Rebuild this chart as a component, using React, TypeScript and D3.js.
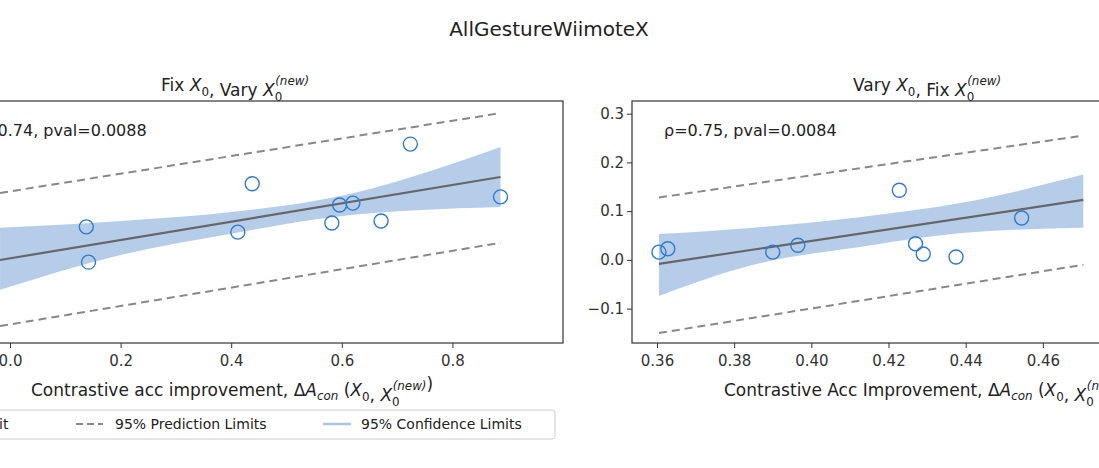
import { useEffect, useRef } from 'react';
import * as d3 from 'd3';

// ---- left panel (Fix X0, Vary X0_new) ----
const leftX = [0.138, 0.142, 0.438, 0.412, 0.582, 0.596, 0.62, 0.671, 0.724, 0.887];
const leftY = [0.14, 0.067, 0.229, 0.129, 0.148, 0.185, 0.189, 0.152, 0.311, 0.202];
const leftFitX = [-0.018, 0.887];
const leftFitY = [0.0715, 0.243];
const leftPiUp = [0.21, 0.375];
const leftPiLo = [-0.065, 0.107];
const leftCiX = [-0.018, 0.2, 0.405, 0.582, 0.887];
const leftCiUp = [0.138, 0.152, 0.171, 0.2, 0.305];
const leftCiLo = [0.01, 0.082, 0.127, 0.16, 0.181];
const leftXTicks = [0, 0.2, 0.4, 0.6, 0.8];

// ---- right panel (Vary X0, Fix X0_new) ----
const rightX = [0.3605, 0.3628, 0.39, 0.3965, 0.4228, 0.427, 0.429, 0.4375, 0.4545];
const rightY = [0.016, 0.023, 0.016, 0.03, 0.143, 0.033, 0.012, 0.006, 0.086];
const rightFitX = [0.3605, 0.4705];
const rightFitY = [-0.008, 0.123];
const rightPiUp = [0.128, 0.255];
const rightPiLo = [-0.15, -0.01];
const rightCiX = [0.3605, 0.385, 0.413, 0.439, 0.4705];
const rightCiUp = [0.053, 0.066, 0.088, 0.117, 0.175];
const rightCiLo = [-0.074, -0.01, 0.027, 0.055, 0.066];
const rightXTicks = [0.36, 0.38, 0.4, 0.42, 0.44, 0.46];
const rightYTicks = [-0.1, 0, 0.1, 0.2, 0.3];

const FONT = 'DejaVu Sans, sans-serif';
const DOT = '#2f7bd0';
const BAND = '#a9c4e6';

export default function App() {
  const ref = useRef<SVGSVGElement>(null);

  useEffect(() => {
    const svg = d3.select(ref.current!);
    svg.selectAll('*').remove();
    svg.append('rect').attr('width', 1099).attr('height', 468).attr('fill', '#fff');

    svg.append('text').attr('x', 549).attr('y', 36).attr('text-anchor', 'middle')
      .attr('font-size', 20).attr('fill', '#222').text('AllGestureWiimoteX');

    // math helper: X_0 / X_0^(new)
    const mathX = (t: any, sup: boolean) => {
      t.append('tspan').attr('font-style', 'italic').text('X');
      t.append('tspan').attr('font-size', '0.7em').attr('dy', 5).text('0');
      if (sup) {
        t.append('tspan').attr('font-size', '0.7em').attr('font-style', 'italic').attr('dx', -7).attr('dy', -16).text('(new)');
        t.append('tspan').attr('dy', 11).text('');
      } else {
        t.append('tspan').attr('dy', -5).text('');
      }
    };

    const panel = (o: any) => {
      const top = 101, bottom = 343;
      const x = d3.scaleLinear().domain(o.xDom).range(o.xRange);
      const y = d3.scaleLinear().domain(o.yDom).range([bottom, top]);
      const g = svg.append('g');

      const area = d3.area<number>().x((_, i) => x(o.ciX[i])).y0((_, i) => y(o.ciLo[i])).y1((_, i) => y(o.ciUp[i])).curve(d3.curveMonotoneX);
      g.append('path').attr('d', area(o.ciX)).attr('fill', BAND).attr('opacity', 0.85);

      const line = d3.line<number>().x((_, i) => x(o.fitX[i])).y((d) => y(d));
      g.append('path').attr('d', line(o.piUp)).attr('fill', 'none').attr('stroke', '#888').attr('stroke-width', 2).attr('stroke-dasharray', '8,5');
      g.append('path').attr('d', line(o.piLo)).attr('fill', 'none').attr('stroke', '#888').attr('stroke-width', 2).attr('stroke-dasharray', '8,5');
      g.append('path').attr('d', line(o.fitY)).attr('fill', 'none').attr('stroke', '#666').attr('stroke-width', 2.2);

      g.selectAll('circle.p').data(o.px as number[]).enter().append('circle')
        .attr('cx', (d) => x(d)).attr('cy', (_, i) => y(o.py[i])).attr('r', 7)
        .attr('fill', 'none').attr('stroke', DOT).attr('stroke-width', 1.4);

      g.append('rect').attr('x', o.xRange[0] - o.padL).attr('y', top).attr('width', o.xRange[1] - o.xRange[0] + o.padL).attr('height', bottom - top)
        .attr('fill', 'none').attr('stroke', '#333').attr('stroke-width', 1.2);

      const ax = g.append('g').attr('transform', `translate(0,${bottom})`)
        .call(d3.axisBottom(x).tickValues(o.xTicks).tickSize(5).tickFormat(o.xFmt));
      ax.select('.domain').remove();
      ax.selectAll('text').attr('font-size', 15).attr('font-family', FONT).attr('fill', '#333').attr('dy', '1em');
      ax.selectAll('line').attr('stroke', '#333');

      if (o.yTicks) {
        const ay = g.append('g').attr('transform', `translate(${o.xRange[0] - o.padL},0)`)
          .call(d3.axisLeft(y).tickValues(o.yTicks).tickSize(5).tickFormat((d: any) => (d < 0 ? '\u2212' : '') + d3.format('.1f')(Math.abs(d))));
        ay.select('.domain').remove();
        ay.selectAll('text').attr('font-size', 15).attr('font-family', FONT).attr('fill', '#333');
        ay.selectAll('line').attr('stroke', '#333');
      }

      g.append('text').attr('x', o.annX).attr('y', 136).attr('font-size', 16).attr('fill', '#222').text(o.ann);
      return g;
    };

    panel({
      xDom: [0, 1], xRange: [10, 563], padL: 40, yDom: [-0.1, 0.4],
      px: leftX, py: leftY, fitX: leftFitX, fitY: leftFitY, piUp: leftPiUp, piLo: leftPiLo,
      ciX: leftCiX, ciUp: leftCiUp, ciLo: leftCiLo, xTicks: leftXTicks, xFmt: d3.format('.1f'),
      annX: -26, ann: '\u03c1=0.74, pval=0.0088',
    });
    panel({
      xDom: [0.36, 0.48], xRange: [657, 1120], padL: 25, yDom: [-0.1705, 0.326],
      px: rightX, py: rightY, fitX: rightFitX, fitY: rightFitY, piUp: rightPiUp, piLo: rightPiLo,
      ciX: rightCiX, ciUp: rightCiUp, ciLo: rightCiLo, xTicks: rightXTicks, xFmt: d3.format('.2f'),
      yTicks: rightYTicks, annX: 664, ann: '\u03c1=0.75, pval=0.0084',
    });

    // subtitles
    const s1 = svg.append('text').attr('x', 161).attr('y', 91).attr('font-size', 17).attr('fill', '#222');
    s1.append('tspan').text('Fix ');
    mathX(s1, false);
    s1.append('tspan').text(', Vary ');
    mathX(s1, true);
    const s2 = svg.append('text').attr('x', 853).attr('y', 91).attr('font-size', 17).attr('fill', '#222');
    s2.append('tspan').text('Vary ');
    mathX(s2, false);
    s2.append('tspan').text(', Fix ');
    mathX(s2, true);

    // x labels
    const xLabel = (x0: number, txt: string) => {
      const l = svg.append('text').attr('x', x0).attr('y', 396).attr('font-size', 17).attr('fill', '#222');
      l.append('tspan').text(txt + ', \u0394');
      l.append('tspan').attr('font-style', 'italic').text('A');
      l.append('tspan').attr('font-style', 'italic').attr('font-size', '0.7em').attr('dy', 4).text('con');
      l.append('tspan').attr('dy', -4).text(' (');
      mathX(l, false);
      l.append('tspan').text(', ');
      mathX(l, true);
      l.append('tspan').text(')');
    };
    xLabel(31, 'Contrastive acc improvement');
    xLabel(724, 'Contrastive Acc Improvement');

    // legend
    const lg = svg.append('g');
    lg.append('rect').attr('x', -20).attr('y', 410).attr('width', 575).attr('height', 29).attr('rx', 3)
      .attr('fill', '#fff').attr('stroke', '#ccc');
    lg.append('line').attr('x1', -40).attr('x2', -14).attr('y1', 424).attr('y2', 424).attr('stroke', '#666').attr('stroke-width', 2);
    lg.append('text').attr('x', -8).attr('y', 429).attr('font-size', 14).attr('fill', '#222').text('Fit');
    lg.append('line').attr('x1', 76).attr('x2', 103).attr('y1', 424).attr('y2', 424).attr('stroke', '#888').attr('stroke-width', 2).attr('stroke-dasharray', '7,4');
    lg.append('text').attr('x', 115).attr('y', 429).attr('font-size', 14).attr('fill', '#222').text('95% Prediction Limits');
    lg.append('line').attr('x1', 323).attr('x2', 351).attr('y1', 424).attr('y2', 424).attr('stroke', BAND).attr('stroke-width', 2.5);
    lg.append('text').attr('x', 361).attr('y', 429).attr('font-size', 14).attr('fill', '#222').text('95% Confidence Limits');
  }, []);

  return (
    <div style={{ position: 'fixed', left: 0, top: 0 }}>
      <svg ref={ref} width={1099} height={468} style={{ display: 'block', fontFamily: FONT }} />
    </div>
  );
}
